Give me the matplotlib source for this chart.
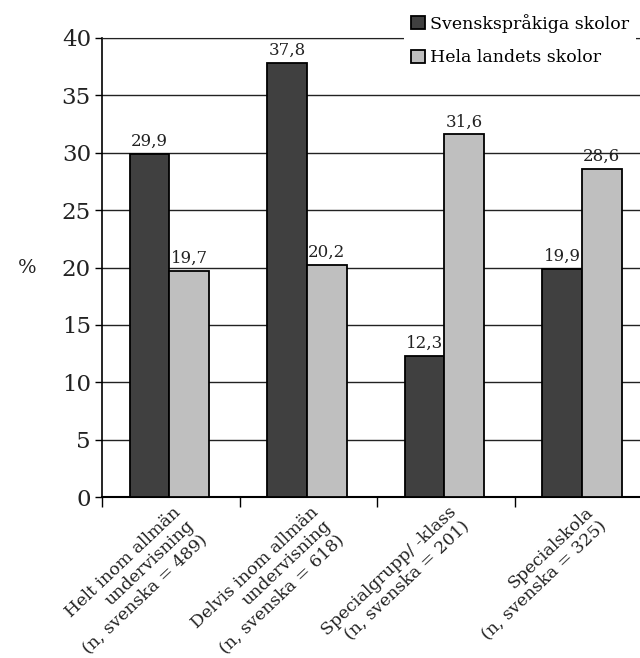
import matplotlib
matplotlib.use("Agg")
import matplotlib.pyplot as plt
import numpy as np
from matplotlib.patches import Patch

categories = [
    "Helt inom allmän\nundervisning\n(n, svenska = 489)",
    "Delvis inom allmän\nundervisning\n(n, svenska = 618)",
    "Specialgrupp/ -klass\n(n, svenska = 201)",
    "Specialskola\n(n, svenska = 325)",
]
svenska = [29.9, 37.8, 12.3, 19.9]
hela = [19.7, 20.2, 31.6, 28.6]
series_names = ["Svenskspråkiga skolor", "Hela landets skolor"]
y_ticks = [0, 5, 10, 15, 20, 25, 30, 35, 40]

plt.rcParams["font.family"] = ["DejaVu Serif"]
dark, light = "#404040", "#bfbfbf"

fig = plt.figure(figsize=(6.4, 6.58), dpi=100)
ax = fig.add_axes([102 / 640, 1 - 497 / 658, 550 / 640, (497 - 38) / 658])

x = np.arange(len(categories))
w = 0.29
b1 = ax.bar(x - w / 2 - 0.01, svenska, w, color=dark, edgecolor="black", linewidth=1.3, zorder=3)
b2 = ax.bar(x + w / 2 - 0.01, hela, w, color=light, edgecolor="black", linewidth=1.3, zorder=3)

for bars, vals in ((b1, svenska), (b2, hela)):
    for r, v in zip(bars, vals):
        ax.text(r.get_x() + r.get_width() / 2, v + 0.35, f"{v:.1f}".replace(".", ","),
                ha="center", va="bottom", fontsize=12, color="#222222")

ax.set_xlim(-0.5, len(categories) - 0.5)
ax.set_ylim(0, 40)
ax.set_yticks(y_ticks)
ax.set_yticklabels([str(t) for t in y_ticks], fontsize=16.5, color="#222222")
ax.yaxis.grid(True, color="#222222", linewidth=1.0, zorder=0)
ax.set_axisbelow(True)
ax.tick_params(axis="y", length=5, width=1, pad=3)

ax.set_xticks(np.arange(len(categories) + 1) - 0.5)
ax.set_xticklabels([])
ax.tick_params(axis="x", length=7, width=1, direction="out")

ax.spines["right"].set_visible(False)
ax.spines["top"].set_color("#222222")
ax.spines["left"].set_linewidth(1.2)
ax.spines["bottom"].set_linewidth(1.5)

for i, lab in enumerate(categories):
    ax.annotate(lab, xy=(i, 0), xycoords=("data", "axes fraction"),
                xytext=(1.5, -5), textcoords="offset points",
                rotation=43.5, rotation_mode="anchor", ha="right", va="top",
                multialignment="right", fontsize=12.5, color="#222222",
                linespacing=1.12)

fig.text(18 / 640, 1 - 268 / 658, "%", fontsize=14, ha="left", va="center", color="#222222")

handles = [Patch(facecolor=dark, edgecolor="black", linewidth=1.3),
           Patch(facecolor=light, edgecolor="black", linewidth=1.3)]
leg = fig.legend(handles, series_names, loc="upper left",
                 bbox_to_anchor=(404 / 640, 1 - 7 / 658), frameon=True,
                 fontsize=12.5, handlelength=0.8, handleheight=0.8, handletextpad=0.3,
                 labelspacing=0.95, borderaxespad=0, borderpad=0.4, fancybox=False)
leg.get_frame().set_edgecolor("none")
leg.get_frame().set_facecolor("white")
leg.get_frame().set_alpha(1)
leg.set_zorder(10)

fig.savefig("out.png", dpi=100)
